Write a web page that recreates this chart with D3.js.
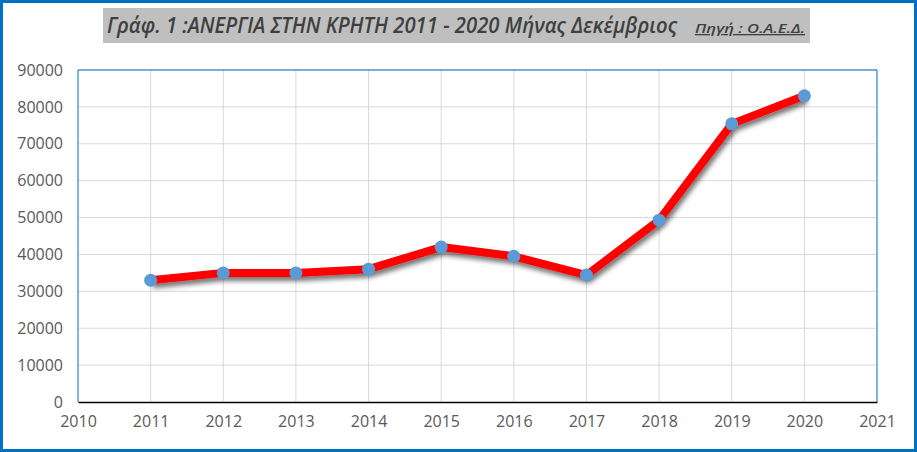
<!DOCTYPE html>
<html><head><meta charset="utf-8">
<script src="https://cdn.jsdelivr.net/npm/d3@7"></script>
<style>
body{margin:0;background:#fff;}
svg text{font-family:"Open Sans",sans-serif;}
</style></head><body>
<svg id="c" width="917" height="452"></svg>
<script>
const years = [2011,2012,2013,2014,2015,2016,2017,2018,2019,2020];
const unemployed = [33000,35000,35000,36000,42000,39500,34400,49300,75400,83000];
const yTicks = [0,10000,20000,30000,40000,50000,60000,70000,80000,90000];
const xTicks = [2010,2011,2012,2013,2014,2015,2016,2017,2018,2019,2020,2021];
const titleText = "Γράφ. 1 :ΑΝΕΡΓΙΑ ΣΤΗΝ ΚΡΗΤΗ 2011 - 2020 Μήνας Δεκέμβριος";
const sourceText = "Πηγή : Ο.Α.Ε.Δ.";

const svg = d3.select("#c");
const W=917,H=452;
const m={l:78,r:877,t:70,b:402};
svg.append("rect").attr("x",1.5).attr("y",1.5).attr("width",W-3).attr("height",H-3)
  .attr("fill","#fff").attr("stroke","#0070C0").attr("stroke-width",3);

const defs=svg.append("defs");
const f=defs.append("filter").attr("id","sh").attr("x","-10%").attr("y","-10%").attr("width","130%").attr("height","140%");
f.append("feDropShadow").attr("dx",2).attr("dy",4).attr("stdDeviation",2.5).attr("flood-color","#000").attr("flood-opacity",0.55);

const x=d3.scaleLinear().domain([2010,2021]).range([m.l,m.r]);
const y=d3.scaleLinear().domain([0,90000]).range([m.b,m.t]);

// gridlines
svg.append("g").selectAll("line").data(yTicks.filter(d=>d>0)).join("line")
  .attr("x1",m.l).attr("x2",m.r).attr("y1",d=>y(d)).attr("y2",d=>y(d))
  .attr("stroke","#d9d9d9").attr("stroke-width",1);
svg.append("g").selectAll("line").data(xTicks.slice(1,-1)).join("line")
  .attr("x1",d=>x(d)).attr("x2",d=>x(d)).attr("y1",m.t).attr("y2",m.b)
  .attr("stroke","#d9d9d9").attr("stroke-width",1);

// plot border
svg.append("path").attr("d",`M${m.l},${m.b}V${m.t}H${m.r}V${m.b}`).attr("fill","none")
  .attr("stroke","#0070C0").attr("stroke-width",1);

// axes
const yAxis=d3.axisLeft(y).tickValues(yTicks).tickSize(0).tickPadding(15).tickFormat(d3.format("d"));
const gy=svg.append("g").attr("transform",`translate(${m.l},0)`).call(yAxis);
gy.select(".domain").remove();
gy.selectAll("text").attr("fill","#595959").attr("font-size",16);

const xAxis=d3.axisBottom(x).tickValues(xTicks).tickSize(0).tickPadding(14).tickFormat(d3.format("d"));
const gx=svg.append("g").attr("transform",`translate(0,${m.b})`).call(xAxis);
gx.select(".domain").attr("stroke","#000").attr("stroke-width",1.5);
gx.selectAll("text").attr("fill","#595959").attr("font-size",16);

// line
const data=years.map((d,i)=>({x:d,y:unemployed[i]}));
svg.append("path").datum(data).attr("d",d3.line().x(d=>x(d.x)).y(d=>y(d.y)))
  .attr("fill","none").attr("stroke","#FF0000").attr("stroke-width",8)
  .attr("stroke-linejoin","round").attr("filter","url(#sh)");
svg.append("g").selectAll("circle").data(data).join("circle")
  .attr("cx",d=>x(d.x)).attr("cy",d=>y(d.y)).attr("r",6.5)
  .attr("fill","#5B9BD5");

// title
svg.append("rect").attr("x",103).attr("y",8).attr("width",707).attr("height",35).attr("fill","#BFBFBF");
svg.append("text").attr("x",107).attr("y",33).attr("fill","#404040").attr("font-style","italic")
  .attr("font-size",21).attr("font-weight",600).attr("textLength",570).attr("lengthAdjust","spacingAndGlyphs").text(titleText);
svg.append("text").attr("x",695).attr("y",33).attr("fill","#404040").attr("font-style","italic")
  .attr("font-size",13).attr("font-weight",600).attr("text-decoration","underline")
  .attr("textLength",110).attr("lengthAdjust","spacingAndGlyphs").text(sourceText);
</script></body></html>
